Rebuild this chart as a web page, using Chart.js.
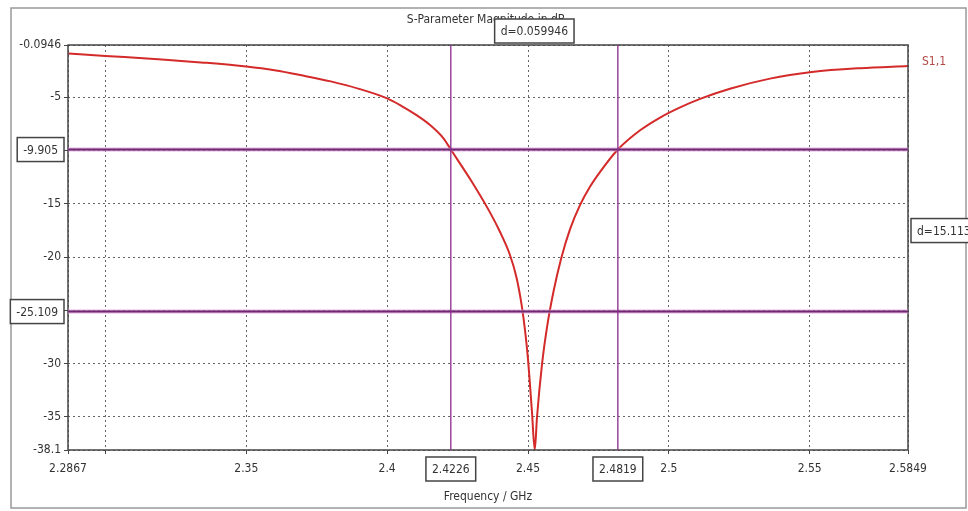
<!DOCTYPE html>
<html>
<head>
<meta charset="utf-8">
<script src="https://cdn.jsdelivr.net/npm/chart.js@4/dist/chart.umd.min.js"></script>
<style>
  html, body { margin: 0; padding: 0; background: #fff; }
  #wrap { width: 968px; height: 511px; position: relative; }
</style>
</head>
<body>
<div id="wrap"><canvas id="c" width="968" height="511"></canvas></div>
<script>
// dados (S1,1 em dB)
const freqGHz = [2.2867, 2.30, 2.32, 2.335, 2.35, 2.36, 2.37, 2.38, 2.39, 2.40, 2.405, 2.41, 2.415, 2.42, 2.4226, 2.43, 2.4365, 2.44, 2.4436, 2.446, 2.4478, 2.449, 2.45, 2.4514, 2.4524, 2.4532, 2.4550, 2.4568, 2.4590, 2.4617, 2.4649, 2.4685, 2.4720, 2.4756, 2.4819, 2.4898, 2.4969, 2.5040, 2.5111, 2.5217, 2.5359, 2.5508, 2.5679, 2.5849];
const s11dB = [-0.9, -1.12, -1.45, -1.75, -2.12, -2.47, -2.96, -3.51, -4.21, -5.11, -5.8, -6.6, -7.55, -8.85, -9.905, -12.9, -15.8, -17.6, -19.8, -22.0, -24.6, -27.0, -29.6, -34.5, -38.1, -35.0, -30.0, -26.5, -23.3, -20.2, -17.4, -15.1, -13.4, -12.0, -9.905, -8.1, -6.9, -5.95, -5.15, -4.2, -3.25, -2.63, -2.27, -2.07];

const xTicks = [2.2867, 2.3, 2.35, 2.4, 2.45, 2.5, 2.55, 2.5849];
const xTickLabels = ['2.2867', '', '2.35', '2.4', '2.45', '2.5', '2.55', '2.5849'];
const yTicks = [-38.1, -35, -30, -25, -20, -15, -10, -5, -0.0946];
const yTickLabels = ['-38.1', '-35', '-30', '', '-20', '-15', '', '-5', '-0.0946'];

const markerFreqs = [2.4226, 2.4819];
const markerLevels = [-9.905, -25.109];
const deltaFreqText = 'd=0.059946';
const deltaLevelText = 'd=15.113';

const FONT = '"Liberation Sans Narrow", "DejaVu Sans Condensed", "Liberation Sans", sans-serif';
const TXT = '#333';

// caixa com texto (rótulos dos marcadores)
function drawBox(ctx, text, x, y, align) {
    ctx.font = '12px ' + FONT;
    const w = ctx.measureText(text).width + 12;
    const h = 24;
    let left = x - w / 2;
    if (align === 'right') left = x - w;
    if (align === 'left') left = x;
    ctx.fillStyle = '#fff';
    ctx.fillRect(left, y - h / 2, w, h);
    ctx.strokeStyle = '#444';
    ctx.lineWidth = 1.5;
    ctx.strokeRect(left, y - h / 2, w, h);
    ctx.fillStyle = TXT;
    ctx.textAlign = 'center';
    ctx.textBaseline = 'middle';
    ctx.fillText(text, left + w / 2, y + 1);
}

const decorPlugin = {
    id: 'decor',
    beforeDraw(chart) {
        const ctx = chart.ctx;
        ctx.save();
        ctx.fillStyle = '#fff';
        ctx.fillRect(0, 0, chart.width, chart.height);
        // moldura externa
        ctx.strokeStyle = '#999';
        ctx.lineWidth = 1.5;
        ctx.strokeRect(11, 8, 955, 500);
        ctx.restore();
    },
    afterDatasetsDraw(chart) {
        const ctx = chart.ctx;
        const a = chart.chartArea;
        const xs = chart.scales.x, ys = chart.scales.y;
        ctx.save();
        // moldura da área do gráfico
        ctx.strokeStyle = '#444';
        ctx.lineWidth = 1.5;
        ctx.strokeRect(a.left, a.top, a.right - a.left, a.bottom - a.top);

        // linhas horizontais dos marcadores
        markerLevels.forEach(v => {
            const y = ys.getPixelForValue(v);
            ctx.strokeStyle = 'rgba(220,150,220,0.7)';
            ctx.lineWidth = 4;
            ctx.beginPath(); ctx.moveTo(a.left, y); ctx.lineTo(a.right, y); ctx.stroke();
            ctx.strokeStyle = '#6e2a6e';
            ctx.lineWidth = 2;
            ctx.beginPath(); ctx.moveTo(a.left, y); ctx.lineTo(a.right, y); ctx.stroke();
        });
        // linhas verticais dos marcadores
        markerFreqs.forEach(f => {
            const x = xs.getPixelForValue(f);
            ctx.strokeStyle = '#8a2a8a';
            ctx.lineWidth = 1.3;
            ctx.beginPath(); ctx.moveTo(x, a.top); ctx.lineTo(x, a.bottom); ctx.stroke();
        });

        // título
        ctx.font = '12px ' + FONT;
        ctx.fillStyle = TXT;
        ctx.textAlign = 'center';
        ctx.textBaseline = 'middle';
        ctx.fillText('S-Parameter Magnitude in dB', (a.left + a.right) / 2 - 2, 20);

        // rótulos dos marcadores
        markerLevels.forEach(v => drawBox(ctx, v.toFixed(3), a.left - 4, ys.getPixelForValue(v), 'right'));
        markerFreqs.forEach(f => drawBox(ctx, f.toFixed(4), xs.getPixelForValue(f), a.bottom + 19, 'center'));
        const xm = (xs.getPixelForValue(markerFreqs[0]) + xs.getPixelForValue(markerFreqs[1])) / 2;
        drawBox(ctx, deltaFreqText, xm, 31, 'center');
        const ym = (ys.getPixelForValue(markerLevels[0]) + ys.getPixelForValue(markerLevels[1])) / 2;
        drawBox(ctx, deltaLevelText, a.right + 3, ym, 'left');

        // legenda
        ctx.font = '12px ' + FONT;
        ctx.fillStyle = '#b04848';
        ctx.textAlign = 'left';
        ctx.textBaseline = 'middle';
        ctx.fillText('S1,1', a.right + 14, 62);

        // título do eixo x
        ctx.fillStyle = TXT;
        ctx.textAlign = 'center';
        ctx.fillText('Frequency / GHz', (a.left + a.right) / 2, 497);
        ctx.restore();
    }
};

const ctx = document.getElementById('c').getContext('2d');
const chart = new Chart(ctx, {
    type: 'line',
    data: {
        datasets: [{
            label: 'S1,1',
            data: freqGHz.map((f, i) => ({ x: f, y: s11dB[i] })),
            borderColor: '#d42a2a',
            borderWidth: 2,
            pointRadius: 0,
            cubicInterpolationMode: 'monotone',
            fill: false
        }]
    },
    options: {
        responsive: false,
        animation: false,
        layout: { padding: { left: 0, top: 45, right: 60, bottom: 0 } },
        plugins: { legend: { display: false }, tooltip: { enabled: false } },
        scales: {
            x: {
                type: 'linear',
                min: 2.2867,
                max: 2.5849,
                afterBuildTicks: s => { s.ticks = xTicks.map(v => ({ value: v })); },
                afterFit: s => { s.height = 61; },
                grid: { color: '#666', lineWidth: 1, tickLength: 4, tickColor: '#444', tickBorderDash: [] },
                border: { display: false, dash: [2, 3] },
                ticks: {
                    autoSkip: false,
                    maxRotation: 0,
                    padding: 8,
                    color: TXT,
                    font: { family: FONT, size: 12 },
                    callback: (v, i) => xTickLabels[i]
                }
            },
            y: {
                type: 'linear',
                min: -38.1,
                max: -0.0946,
                afterBuildTicks: s => { s.ticks = yTicks.map(v => ({ value: v })); },
                afterFit: s => { s.width = 68; },
                grid: { color: '#666', lineWidth: 1, tickLength: 4, tickColor: '#444', tickBorderDash: [] },
                border: { display: false, dash: [2, 3] },
                ticks: {
                    autoSkip: false,
                    padding: 3,
                    color: TXT,
                    font: { family: FONT, size: 12 },
                    callback: (v, i) => yTickLabels[i]
                }
            }
        }
    },
    plugins: [decorPlugin]
});
</script>
</body>
</html>
